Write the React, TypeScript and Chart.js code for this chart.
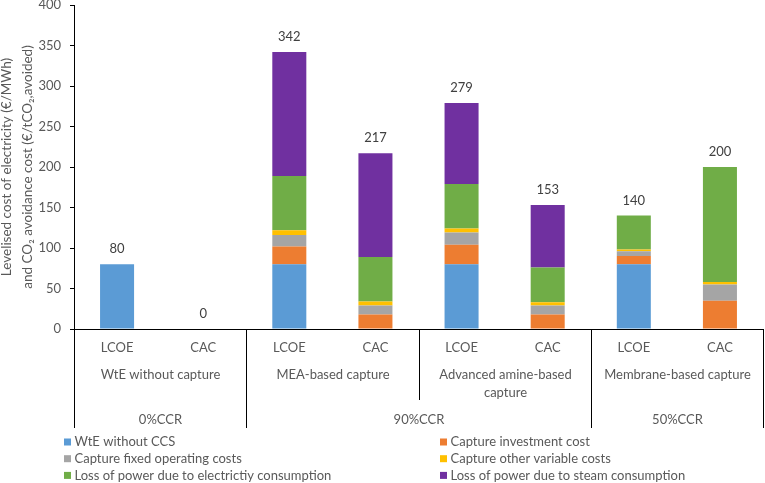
import { useEffect, useRef } from "react";
import { Chart, registerables, Plugin } from "chart.js";

Chart.register(...registerables);

const FONT = "Lato, 'Open Sans', sans-serif";

const categories = ["LCOE", "CAC", "LCOE", "CAC", "LCOE", "CAC", "LCOE", "CAC"];
const technologies: (string | string[])[] = [
	"WtE without capture",
	"MEA-based capture",
	["Advanced amine-based", "capture"],
	"Membrane-based capture",
];
const captureRates = ["0%CCR", "90%CCR", "50%CCR"];
const captureRateSpans = [1, 2, 1]; // technologies under each capture rate

const wteWithoutCcs = [80, 0, 80, 0, 80, 0, 80, 0];
const captureInvestment = [0, 0, 22, 18, 24, 18, 10, 35];
const captureFixedOperating = [0, 0, 14, 11, 15, 11, 6, 20];
const captureOtherVariable = [0, 0, 6, 5, 5, 4, 2, 3];
const powerLossElectricity = [0, 0, 67, 55, 55, 43, 42, 142];
const powerLossSteam = [0, 0, 153, 128, 100, 77, 0, 0];

const seriesNames = [
	"WtE without CCS",
	"Capture investment cost",
	"Capture fixed operating costs",
	"Capture other variable costs",
	"Loss of power due to electrictiy consumption",
	"Loss of power due to steam consumption",
];
const seriesColors = ["#5B9BD5", "#ED7D31", "#A5A5A5", "#FFC000", "#70AD47", "#7030A0"];

const yTitle = [
	"Levelised cost of electricity (€/MWh)",
	"and CO\u2082 avoidance cost (€/tCO\u2082,avoided)",
];

const multiLevelAxis: Plugin<"bar"> = {
	id: "multiLevelAxis",
	afterDraw(chart) {
		const { ctx, chartArea, scales } = chart;
		const x = scales.x;
		const y = scales.y;
		const step = x.getPixelForValue(1) - x.getPixelForValue(0);
		const edge = (i: number) => Math.round(x.getPixelForValue(i) - step / 2) + 0.5;
		const bottom = chartArea.bottom;

		ctx.save();
		ctx.textAlign = "center";
		ctx.textBaseline = "middle";

		// stack totals
		ctx.font = `13px ${FONT}`;
		ctx.fillStyle = "#404040";
		categories.forEach((_, i) => {
			const total = chart.data.datasets.reduce(
				(s, d) => s + ((d.data[i] as number) || 0),
				0
			);
			ctx.fillText(String(total), x.getPixelForValue(i), y.getPixelForValue(total) - 15);
		});

		// dividers
		ctx.strokeStyle = "#000000";
		ctx.lineWidth = 1;
		const rateEdges = new Set<number>([0]);
		let acc = 0;
		captureRateSpans.forEach((n) => {
			acc += n * 2;
			rateEdges.add(acc);
		});
		for (let t = 0; t <= technologies.length; t++) {
			const px = edge(t * 2);
			ctx.beginPath();
			ctx.moveTo(px, bottom);
			ctx.lineTo(px, rateEdges.has(t * 2) ? 428 : 400);
			ctx.stroke();
		}

		// technology labels
		ctx.fillStyle = "#595959";
		technologies.forEach((label, t) => {
			const cx = (edge(t * 2) + edge(t * 2 + 2)) / 2;
			const lines = Array.isArray(label) ? label : [label];
			lines.forEach((line, k) => ctx.fillText(line, cx, 375 + k * 17.5));
		});

		// capture rate labels
		let start = 0;
		captureRates.forEach((label, r) => {
			const end = start + captureRateSpans[r] * 2;
			ctx.fillText(label, (edge(start) + edge(end)) / 2, 420);
			start = end;
		});

		// legend in two columns
		ctx.textAlign = "left";
		chart.data.datasets.forEach((d, i) => {
			const col = i % 2;
			const row = Math.floor(i / 2);
			const lx = col === 0 ? 64 : 440;
			const ly = 442 + row * 16.7;
			ctx.fillStyle = d.backgroundColor as string;
			ctx.fillRect(lx, ly - 3.5, 7, 7);
			ctx.fillStyle = "#595959";
			ctx.fillText(d.label as string, lx + 10.5, ly);
		});
		ctx.restore();
	},
};

const StackedCostChart = () => {
	const canvasRef = useRef<HTMLCanvasElement | null>(null);

	useEffect(() => {
		if (!canvasRef.current) return;
		const values = [
			wteWithoutCcs,
			captureInvestment,
			captureFixedOperating,
			captureOtherVariable,
			powerLossElectricity,
			powerLossSteam,
		];
		const chart = new Chart(canvasRef.current, {
			type: "bar",
			data: {
				labels: categories,
				datasets: values.map((data, i) => ({
					label: seriesNames[i],
					data,
					backgroundColor: seriesColors[i],
					borderWidth: 0,
					barPercentage: 0.395,
					categoryPercentage: 1,
				})),
			},
			options: {
				responsive: false,
				animation: false,
				layout: { padding: { top: 5, right: 2, left: 0, bottom: 0 } },
				plugins: {
					legend: { display: false },
					tooltip: { enabled: false },
				},
				scales: {
					x: {
						stacked: true,
						grid: { display: false, drawTicks: false },
						border: { display: true, color: "#000000", width: 1 },
						ticks: {
							color: "#595959",
							font: { family: FONT, size: 13 },
							padding: 11,
						},
						afterFit: (s) => {
							s.height = 483 - 329;
						},
					},
					y: {
						stacked: true,
						min: 0,
						max: 400,
						ticks: {
							stepSize: 50,
							color: "#595959",
							font: { family: FONT, size: 13 },
							padding: 9,
						},
						grid: {
							drawOnChartArea: false,
							drawTicks: true,
							tickLength: 4,
							tickColor: "#000000",
						},
						border: { display: true, color: "#000000", width: 1 },
						title: {
							display: true,
							text: yTitle,
							color: "#595959",
							font: { family: FONT, size: 13.5, lineHeight: 1.55 },
							padding: { top: -4, bottom: 0 },
						},
						afterFit: (s) => {
							s.width = 74;
							s.paddingTop = 0;
							s.paddingBottom = 0;
						},
					},
				},
			},
			plugins: [multiLevelAxis],
		});
		return () => {
			chart.destroy();
		};
	}, []);

	return <canvas ref={canvasRef} width={765} height={483}></canvas>;
};

export default function App() {
	return (
		<div style={{ position: "absolute", left: 0, top: 0, width: 765, height: 483, background: "#fff" }}>
			<StackedCostChart />
		</div>
	);
}
